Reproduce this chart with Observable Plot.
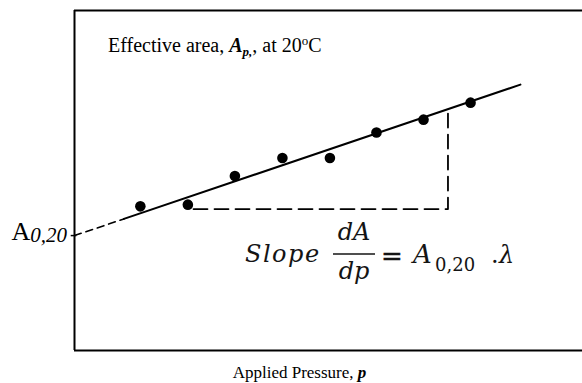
<!DOCTYPE html>
<html><head><meta charset="utf-8">
<script src="https://cdn.jsdelivr.net/npm/d3@7"></script>
<script src="https://cdn.jsdelivr.net/npm/@observablehq/plot@0.6"></script>
<style>body{margin:0;background:#fff}</style>
</head><body><div id="chart"></div>
<script>
// Measured points (applied pressure, effective area) in arbitrary units
const pressure = [1.4, 2.41, 3.41, 4.42, 5.43, 6.42, 7.42, 8.42];
const area = [4.24, 4.29, 5.13, 5.66, 5.66, 6.41, 6.79, 7.29];
// Fitted line (solid) and its dashed extrapolation back to p = 0
const fitP = [1.05, 9.48];
const fitA = [3.87, 7.82];
const extP = [0, 1.05];
const extA = [3.38, 3.87];
// Slope triangle (dashed)
const triP = [2.53, 7.94, 7.94];
const triA = [4.16, 4.16, 7.06];
// Intercept A0,20
const intercept = [3.38];

const points = pressure.map((p, i) => ({p, a: area[i]}));
const fit = fitP.map((p, i) => ({p, a: fitA[i]}));
const ext = extP.map((p, i) => ({p, a: extA[i]}));
const tri = triP.map((p, i) => ({p, a: triA[i]}));

const chart = Plot.plot({
  width: 582, height: 383,
  marginLeft: 74, marginRight: 0, marginTop: 10, marginBottom: 33,
  x: {domain: [0, 10.8], axis: null},
  y: {domain: [0, 10], axis: null},
  style: {fontFamily: "Liberation Serif", background: "white", color: "black"},
  marks: [
    Plot.ruleX([0], {stroke: "#000", strokeWidth: 2}),
    Plot.ruleY([0, 10], {stroke: "#000", strokeWidth: 2}),
    Plot.ruleY(intercept, {x1: -0.07, x2: 0.05, stroke: "#000", strokeWidth: 1.5}),
    Plot.line(ext, {x: "p", y: "a", stroke: "#000", strokeWidth: 1.6, strokeDasharray: "7,5"}),
    Plot.line(fit, {x: "p", y: "a", stroke: "#000", strokeWidth: 2}),
    Plot.line(tri, {x: "p", y: "a", stroke: "#000", strokeWidth: 1.8, strokeDasharray: "14,7"}),
    Plot.dot(points, {x: "p", y: "a", r: 5.3, fill: "#000", stroke: "none"})
  ]
});
document.getElementById("chart").append(chart);

const svg = d3.select(chart);
const sx = chart.scale("x"), sy = chart.scale("y");
const serif = "'Liberation Serif', 'Times New Roman', serif";
const math = "'DejaVu Serif', serif";

// Panel title
const t1 = svg.append("text").attr("x", 108).attr("y", 52).attr("text-anchor", "start")
  .attr("font-family", serif).attr("font-size", 20).attr("fill", "#000");
t1.append("tspan").text("Effective area, ");
t1.append("tspan").attr("font-weight", "bold").attr("font-style", "italic").text("A");
t1.append("tspan").attr("font-weight", "bold").attr("font-style", "italic")
  .attr("font-size", 13).attr("dy", 4).text("p,");
t1.append("tspan").attr("dy", -4).text(", at 20");
t1.append("tspan").attr("font-size", 13).attr("dy", -7).text("o");
t1.append("tspan").attr("dy", 7).text("C");

// Intercept label
const ax = sx.apply(0), ay = sy.apply(intercept[0]);
const t2 = svg.append("text").attr("x", ax - 7).attr("y", ay + 5)
  .attr("text-anchor", "end").attr("font-family", serif).attr("fill", "#000");
t2.append("tspan").attr("font-size", 26).text("A");
t2.append("tspan").attr("font-size", 21).attr("font-style", "italic").attr("dy", 2).text("0,20");

// Axis label
const t3 = svg.append("text").attr("x", 299.5).attr("y", 378).attr("text-anchor", "middle")
  .attr("font-family", serif).attr("font-size", 17).attr("fill", "#000");
t3.append("tspan").text("Applied Pressure, ");
t3.append("tspan").attr("font-weight", "bold").attr("font-style", "italic").text("p");

// Slope equation
const eq = svg.append("g").attr("fill", "#141414").attr("font-family", math).attr("text-anchor", "start");
eq.append("text").attr("x", 245).attr("y", 262).attr("font-size", 24)
  .attr("font-style", "italic").attr("letter-spacing", 1.5).text("Slope");
eq.append("text").attr("x", 354).attr("y", 240).attr("font-size", 24)
  .attr("font-style", "italic").attr("text-anchor", "middle").text("dA");
eq.append("line").attr("x1", 333).attr("x2", 375).attr("y1", 254).attr("y2", 254)
  .attr("stroke", "#141414").attr("stroke-width", 1.5);
eq.append("text").attr("x", 354).attr("y", 279).attr("font-size", 24)
  .attr("font-style", "italic").attr("text-anchor", "middle").text("dp");
eq.append("text").attr("x", 381).attr("y", 265).attr("font-size", 26).attr("stroke", "#141414")
  .attr("stroke-width", 0.4).text("=");
eq.append("text").attr("x", 413).attr("y", 263).attr("font-size", 26)
  .attr("font-style", "italic").text("A");
eq.append("text").attr("x", 435).attr("y", 271).attr("font-size", 18).text("0,20");
eq.append("text").attr("x", 491).attr("y", 263).attr("font-size", 24).text(".");
eq.append("text").attr("x", 499).attr("y", 263).attr("font-size", 24)
  .attr("font-style", "italic").text("λ");
</script>
</body></html>
